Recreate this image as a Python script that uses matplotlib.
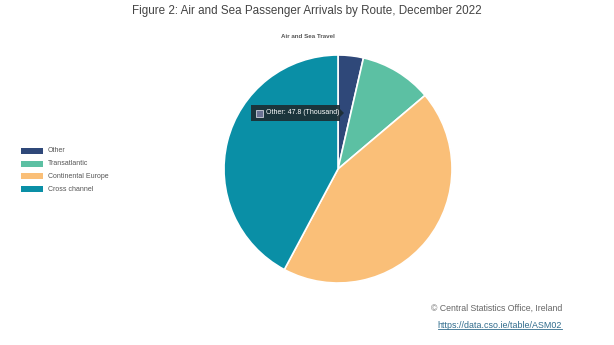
import matplotlib
matplotlib.use('Agg')
import matplotlib.pyplot as plt
from matplotlib.patches import Rectangle, Polygon

plt.rcParams['font.family'] = ['Liberation Sans', 'DejaVu Sans']

routes = ['Other', 'Transatlantic', 'Continental Europe', 'Cross channel']
arrivals = [47.8, 136.5, 586.0, 562.3]  # thousand passengers
colours = ['#2f4879', '#5cc0a3', '#fabf78', '#0a8fa6']

W, H = 614, 345
fig = plt.figure(figsize=(W / 100, H / 100), dpi=100)
fig.patch.set_facecolor('white')

def px(x, y):
    return x / W, 1 - y / H

fig.text(*px(307, 11), 'Figure 2: Air and Sea Passenger Arrivals by Route, December 2022',
         ha='center', va='center', fontsize=8.4, color='#444444')
fig.text(*px(308, 37), 'Air and Sea Travel', ha='center', va='center',
         fontsize=4.5, fontweight='bold', color='#555555')

# pie
cx, cy, r = 338, 169, 114
ax = fig.add_axes([(cx - r) / W, 1 - (cy + r) / H, 2 * r / W, 2 * r / H])
ax.pie(arrivals, colors=colours, startangle=90, counterclock=False,
       wedgeprops=dict(edgecolor='white', linewidth=1.2), radius=1.0)
ax.set_xlim(-1, 1)
ax.set_ylim(-1, 1)
ax.set_aspect('auto')
ax.axis('off')

# legend
for i, (name, c) in enumerate(zip(routes, colours)):
    y = 151 + i * 12.7
    fig.patches.append(Rectangle(px(21, y + 3), 22 / W, 6 / H, facecolor=c,
                                 edgecolor='none', transform=fig.transFigure))
    fig.text(*px(48, y), name, ha='left', va='center', fontsize=5.0, color='#555555')

# tooltip
tip_x0, tip_x1, tip_y0, tip_y1 = 251, 340, 105, 121
fig.patches.append(Rectangle(px(tip_x0, tip_y1), (tip_x1 - tip_x0) / W, (tip_y1 - tip_y0) / H,
                             facecolor='#1d2d33', edgecolor='none', alpha=0.92,
                             transform=fig.transFigure, zorder=5))
fig.patches.append(Polygon([px(tip_x1, 109), px(tip_x1 + 4, 113), px(tip_x1, 117)],
                           closed=True, facecolor='#1d2d33', edgecolor='none', alpha=0.92,
                           transform=fig.transFigure, zorder=5))
fig.patches.append(Rectangle(px(256, 116.5), 7 / W, 7 / H, facecolor='#6c7394',
                             edgecolor='#cfd3dd', linewidth=0.6,
                             transform=fig.transFigure, zorder=6))
fig.text(*px(266, 113), f'{routes[0]}: {arrivals[0]} (Thousand)', ha='left', va='center',
         fontsize=5.0, color='white', zorder=7)

# source
fig.text(*px(562, 308), '\u00a9 Central Statistics Office, Ireland', ha='right', va='center',
         fontsize=6.3, color='#666666')
link = fig.text(*px(562, 325), 'https://data.cso.ie/table/ASM02', ha='right', va='center',
                fontsize=6.4, color='#2f6b8c')

# underline the link across its drawn width
fig.canvas.draw()
bb = link.get_window_extent().transformed(fig.transFigure.inverted())
fig.lines.append(plt.Line2D([bb.x0, bb.x1], [bb.y0 + 0.3 / H, bb.y0 + 0.3 / H],
                            color='#2f6b8c', linewidth=0.6, transform=fig.transFigure))

fig.savefig('out.png', dpi=100)
